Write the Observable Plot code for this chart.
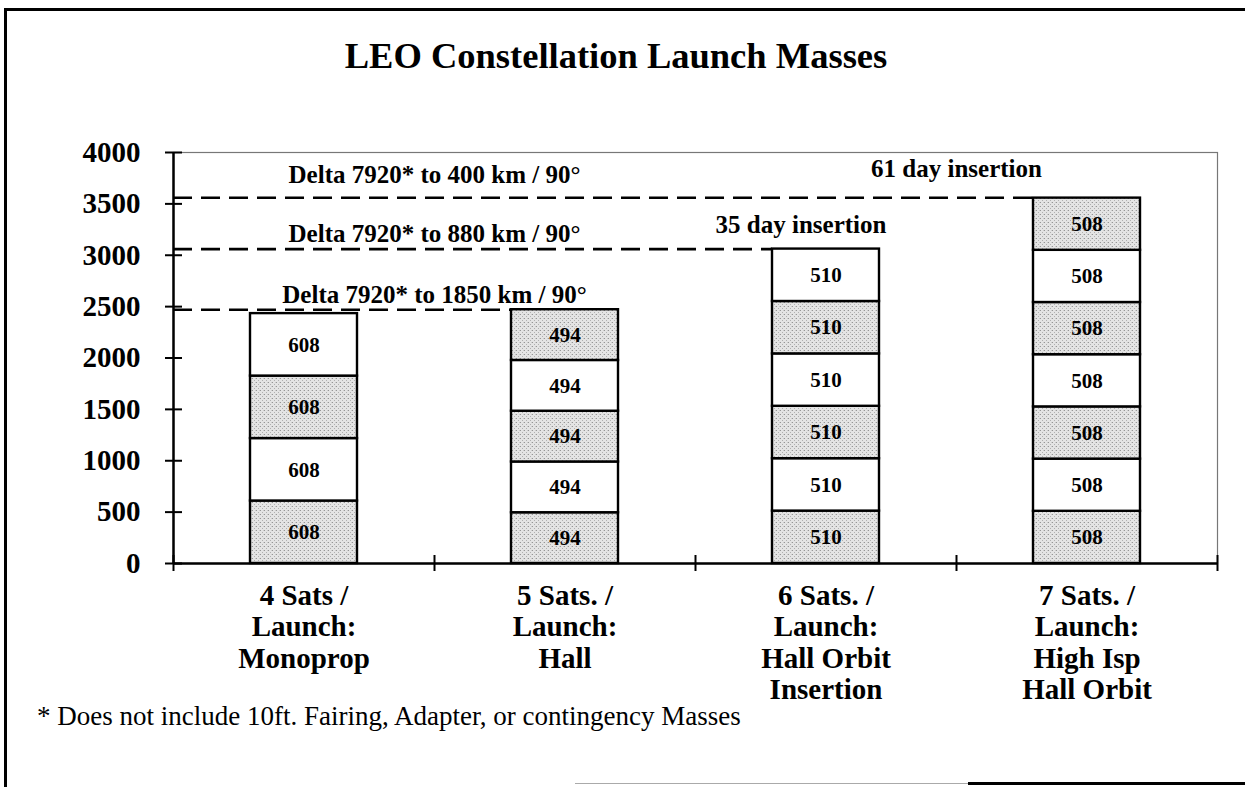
<!DOCTYPE html>
<html><head><meta charset="utf-8">
<script src="https://cdn.jsdelivr.net/npm/d3@7"></script>
<script src="https://cdn.jsdelivr.net/npm/@observablehq/plot@0.6"></script>
<style>
html,body{margin:0;padding:0;background:#fff;}
body{width:1245px;height:787px;position:relative;overflow:hidden;font-family:"Liberation Serif","Times New Roman",serif;color:#000;}
#frame{position:absolute;left:4px;top:8px;width:1260px;height:800px;border-left:3px solid #000;border-top:3px solid #000;}
#title{position:absolute;left:0;width:1232px;top:38px;text-align:center;font-weight:bold;font-size:36.5px;line-height:1;white-space:nowrap;}
#chart{position:absolute;left:0;top:130px;}
#note{position:absolute;left:37px;top:703px;font-size:27px;line-height:1;white-space:nowrap;}
#bottomline{position:absolute;left:968px;top:782px;width:280px;height:3px;background:#000;}
#bottomfaint{position:absolute;left:575px;top:783px;width:400px;height:1px;background:#aaa;}
</style>
</head>
<body>
<div id="frame"></div>
<div id="bottomfaint"></div>
<div id="bottomline"></div>
<div id="title">LEO Constellation Launch Masses</div>
<div id="chart"></div>
<div id="note">* Does not include 10ft. Fairing, Adapter, or contingency Masses</div>
<script>
// ---- data ----
const categories = [
  "4 Sats /\nLaunch:\nMonoprop",
  "5 Sats. /\nLaunch:\nHall",
  "6 Sats. /\nLaunch:\nHall Orbit\nInsertion",
  "7 Sats. /\nLaunch:\nHigh Isp\nHall Orbit"
];
const satsPerLaunch = [4, 5, 6, 7];
const satMass = [608, 494, 510, 508];
const limitLabels = ["Delta 7920* to 400 km / 90°", "Delta 7920* to 880 km / 90°", "Delta 7920* to 1850 km / 90°"];
const limitValues = [3560, 3060, 2470];
const limitEndBar = [3, 2, 1];
const insertionLabels = ["35 day insertion", "61 day insertion"];
const insertionBar = [2, 3];
const yTicks = [0, 500, 1000, 1500, 2000, 2500, 3000, 3500, 4000];

// ---- derived tables ----
const segments = categories.flatMap((cat, i) =>
  d3.range(satsPerLaunch[i]).map(k => ({cat, mass: satMass[i], shade: k % 2 === 0 ? "shaded" : "plain"})));
const totals = categories.map((c, i) => d3.sum(segments.filter(s => s.cat === c), s => s.mass));
const limits = limitLabels.map((label, i) => ({label, value: limitValues[i], start: categories[0], bar: categories[limitEndBar[i]]}));
const insertions = insertionLabels.map((label, i) => ({label, bar: categories[insertionBar[i]], total: totals[insertionBar[i]]}));

// ---- layout ----
const W = 1245, H = 560, ML = 173, MR = 28, MT = 22, MB = 127;
const pIn = 0.59, pOut = 0.295;
const step = (W - ML - MR) / categories.length;
const bw = step * (1 - pIn);
const serif = '"Liberation Serif", "Times New Roman", serif';

const hline = {draw(ctx, size) { const r = Math.sqrt(size / Math.PI); ctx.moveTo(-r, 0); ctx.lineTo(r, 0); }};

const defsMark = () => {
  const g = document.createElementNS("http://www.w3.org/2000/svg", "g");
  g.innerHTML = '<defs><pattern id="stipple" width="4" height="4" patternUnits="userSpaceOnUse">' +
    '<rect width="4" height="4" fill="#e4e4e4"/><rect x="0" y="0" width="1" height="1" fill="#969696"/>' +
    '<rect x="2" y="2" width="1" height="1" fill="#b0b0b0"/><rect x="3" y="0" width="1" height="1" fill="#cccccc"/></pattern></defs>';
  return g;
};

const chart = Plot.plot({
  width: W, height: H,
  marginLeft: ML, marginRight: MR, marginTop: MT, marginBottom: MB,
  style: {fontFamily: serif, background: "transparent", overflow: "visible", color: "black"},
  x: {type: "band", domain: categories, paddingInner: pIn, paddingOuter: pOut, axis: null},
  y: {domain: [0, 4000], axis: null},
  color: {type: "ordinal", domain: ["shaded", "plain"], range: ["url(#stipple)", "white"]},
  marks: [
    defsMark,
    Plot.frame({stroke: "#777", strokeWidth: 1.2}),
    Plot.ruleY(limits, {y: "value", x1: "start", x2: "bar", insetLeft: -pOut * step, insetRight: bw, stroke: "black", strokeWidth: 2.6, strokeDasharray: "19,9"}),
    Plot.barY(segments, {x: "cat", y: "mass", fill: "shade", stroke: "black", strokeWidth: 2.4}),
    Plot.text(segments, Plot.stackY({x: "cat", y: "mass", text: d => String(d.mass), fontSize: 21, fontWeight: "bold", fill: "black"})),
    Plot.ruleY([0], {stroke: "black", strokeWidth: 2.5}),
    Plot.ruleX([categories[0]], {x: d => d, dx: -step / 2, stroke: "black", strokeWidth: 2.5}),
    Plot.ruleX(categories, {x: d => d, dx: -step / 2, y1: 0, y2: 0, insetTop: -8, insetBottom: -8, stroke: "black", strokeWidth: 2}),
    Plot.ruleX([categories[categories.length - 1]], {x: d => d, dx: step / 2, y1: 0, y2: 0, insetTop: -8, insetBottom: -8, stroke: "black", strokeWidth: 2}),
    Plot.dot(yTicks, {y: d => d, frameAnchor: "left", symbol: hline, r: 8.5, stroke: "black", strokeWidth: 2, fill: "none"}),
    Plot.axisY({ticks: yTicks, tickSize: 0, tickPadding: 33, tickFormat: d => String(d), fontSize: 29, fontWeight: "bold", label: null, fill: "black"}),
    Plot.axisX({tickSize: 0, tickPadding: 19, fontSize: 29, fontWeight: "bold", lineHeight: 1.086, label: null, fill: "black"}),
    Plot.text(limits.slice(0, 1), {x: "start", dx: step / 2, y: "value", dy: -15, text: "label", lineAnchor: "bottom", fontSize: 25, fontWeight: "bold", fill: "black"}),
    Plot.text(limits.slice(1), {x: "start", dx: step / 2, y: "value", dy: -7, text: "label", lineAnchor: "bottom", fontSize: 25, fontWeight: "bold", fill: "black"}),
    Plot.text(insertions.slice(0, 1), {x: "bar", dx: -25, y: "total", dy: -16, text: "label", lineAnchor: "bottom", fontSize: 25, fontWeight: "bold", fill: "black"}),
    Plot.text(insertions.slice(1), {x: "bar", dx: -step / 2, y: "total", dy: -21, text: "label", lineAnchor: "bottom", fontSize: 25, fontWeight: "bold", fill: "black"})
  ]
});
document.getElementById("chart").appendChild(chart);
</script>
</body></html>
